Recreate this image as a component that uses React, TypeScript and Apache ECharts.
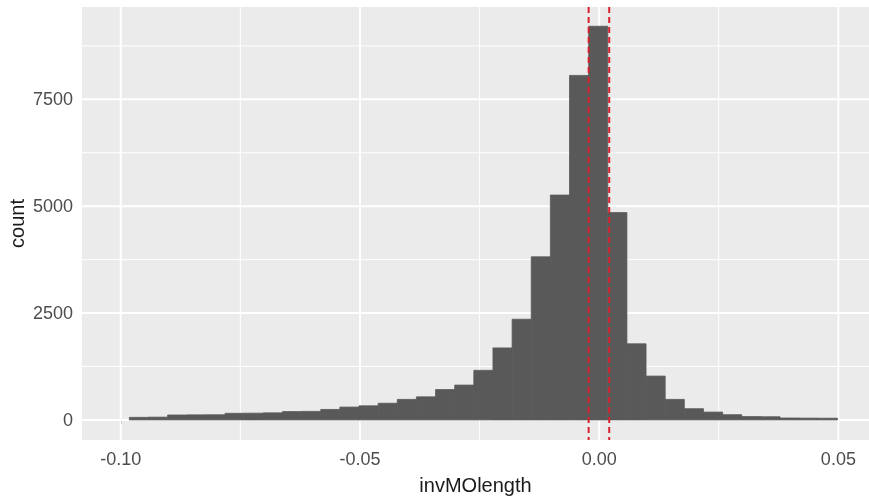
import React, { useEffect, useRef } from "react";
import * as echarts from "echarts";

// Histogram of invMOlength
const binStart = -0.0982;
const binWidth = 0.004;
const counts = [
  60, 65, 115, 118, 120, 155, 158, 165, 195, 200, 245, 300, 330, 390, 480, 540,
  710, 815, 1160, 1685, 2355, 3815, 5260, 8060, 9210, 4850, 1780, 1025, 480, 262,
  183, 122, 78, 74, 45, 42, 40,
];
const redLines = [-0.0022, 0.0021];
const xTicks = [-0.1, -0.05, 0, 0.05];
const xMinor = [-0.075, -0.025, 0.025];
const yTicks = [0, 2500, 5000, 7500];
const yMinor = [1250, 3750, 6250, 8750];

const X_MIN = -0.1081;
const X_MAX = 0.0564;
const Y_MIN = -470;
const Y_MAX = 9660;

const FONT = "'Liberation Sans', Arial, sans-serif";

export default function App() {
  const ref = useRef<HTMLDivElement>(null);
  useEffect(() => {
    if (!ref.current) return;
    const chart = echarts.init(ref.current, null, { renderer: "svg" });

    const bins = counts.map((c, i) => [
      binStart + i * binWidth,
      binStart + (i + 1) * binWidth,
      c,
    ]);

    const vLine = (color: string, width: number, dash?: number[]) =>
      (params: any, api: any) => {
        const cs = params.coordSys;
        const px = api.coord([api.value(0), 0])[0];
        return {
          type: "line",
          shape: { x1: px, y1: cs.y, x2: px, y2: cs.y + cs.height },
          style: { stroke: color, lineWidth: width, lineDash: dash || null },
          silent: true,
        };
      };
    const hLine = (color: string, width: number) => (params: any, api: any) => {
      const cs = params.coordSys;
      const py = api.coord([0, api.value(1)])[1];
      return {
        type: "line",
        shape: { x1: cs.x, y1: py, x2: cs.x + cs.width, y2: py },
        style: { stroke: color, lineWidth: width },
        silent: true,
      };
    };

    chart.setOption({
      animation: false,
      grid: {
        left: 82,
        right: 0,
        top: 7,
        bottom: 58,
        show: true,
        backgroundColor: "#EBEBEB",
        borderWidth: 0,
        containLabel: false,
        outerBoundsMode: "none",
      },
      xAxis: {
        type: "value",
        min: X_MIN,
        max: X_MAX,
        name: "invMOlength",
        nameLocation: "middle",
        nameGap: 35,
        nameTextStyle: { color: "#1a1a1a", fontSize: 20, fontFamily: FONT },
        axisLine: { show: false },
        splitLine: { show: false },
        axisTick: {
          show: true,
          customValues: xTicks,
          length: 4,
          lineStyle: { color: "#333", width: 1 },
        },
        axisLabel: {
          customValues: xTicks,
          formatter: (v: number) => v.toFixed(2),
          color: "#4D4D4D",
          fontSize: 18,
          fontFamily: FONT,
          margin: 10,
        },
      },
      yAxis: {
        type: "value",
        min: Y_MIN,
        max: Y_MAX,
        name: "count",
        nameLocation: "middle",
        nameGap: 55,
        nameMoveOverlap: false,
        nameTextStyle: { color: "#1a1a1a", fontSize: 20, fontFamily: FONT },
        axisLine: { show: false },
        splitLine: { show: false },
        axisTick: {
          show: true,
          customValues: yTicks,
          length: 4,
          lineStyle: { color: "#333", width: 1 },
        },
        axisLabel: {
          customValues: yTicks,
          formatter: (v: number) => String(v),
          color: "#4D4D4D",
          fontSize: 18,
          fontFamily: FONT,
          margin: 9,
        },
      },
      series: [
        {
          type: "custom",
          z: 1,
          data: xMinor.map((v) => [v, 0]),
          renderItem: vLine("#FFFFFF", 1),
          silent: true,
        },
        {
          type: "custom",
          z: 1,
          data: yMinor.map((v) => [0, v]),
          renderItem: hLine("#FFFFFF", 1),
          silent: true,
        },
        {
          type: "custom",
          z: 1,
          data: xTicks.map((v) => [v, 0]),
          renderItem: vLine("#FFFFFF", 2),
          silent: true,
        },
        {
          type: "custom",
          z: 1,
          data: yTicks.map((v) => [0, v]),
          renderItem: hLine("#FFFFFF", 2),
          silent: true,
        },
        {
          type: "custom",
          z: 2,
          data: bins,
          encode: { x: [0, 1], y: 2 },
          renderItem: (params: any, api: any) => {
            const p0 = api.coord([api.value(0), api.value(2)]);
            const p1 = api.coord([api.value(1), 0]);
            return {
              type: "rect",
              shape: {
                x: p0[0],
                y: p0[1],
                width: p1[0] - p0[0],
                height: p1[1] - p0[1],
              },
              style: { fill: "#595959", stroke: "#595959", lineWidth: 0.8 },
            };
          },
        },
        {
          type: "custom",
          z: 3,
          data: redLines.map((v) => [v, 0]),
          renderItem: vLine("#D9202C", 2, [6, 4]),
          silent: true,
        },
      ],
    });
    return () => chart.dispose();
  }, []);
  return (
    <div
      ref={ref}
      style={{ position: "fixed", left: 0, top: 0, width: 869, height: 498 }}
    />
  );
}
